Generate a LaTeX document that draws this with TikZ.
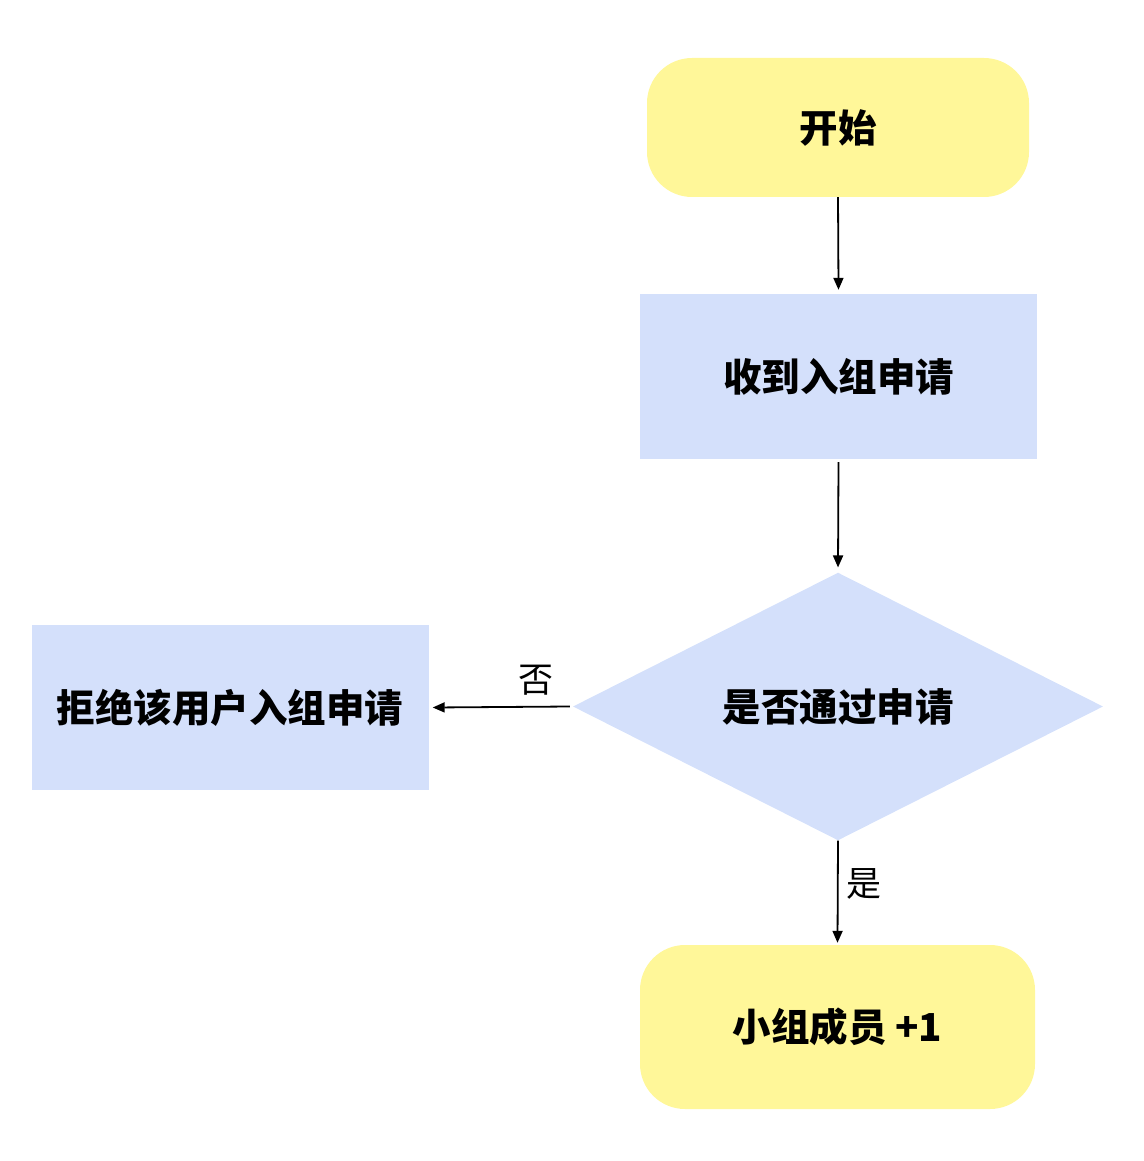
\documentclass[tikz,border=0pt]{standalone}
\usepackage{fontspec}
\newfontfamily\cjk{Noto Sans CJK SC}
\usetikzlibrary{shapes.geometric,arrows.meta}
\definecolor{ylw}{HTML}{FFF799}
\definecolor{blu}{HTML}{D4E0FB}
\tikzset{
  bigtxt/.style={font=\cjk\bfseries\fontsize{38.5}{42}\selectfont},
  term/.style={fill=ylw, rounded corners=45pt, minimum width=#1, inner sep=0pt, bigtxt},
  proc/.style={fill=blu, minimum width=397pt, minimum height=165pt, inner sep=0pt, bigtxt},
  dec/.style={fill=blu, diamond, minimum width=530pt, minimum height=263pt, inner sep=0pt, bigtxt},
  conn/.style={draw=black, line width=1.8pt, -{Triangle[length=12pt,width=10pt]}},
  lbl/.style={font=\cjk\fontsize{35}{38}\selectfont}
}
\begin{document}
\begin{tikzpicture}[x=1pt,y=-1pt]
\useasboundingbox (0,0) rectangle (1143,1161);
\node[term=382pt, minimum height=139pt] (start) at (838,127.5) {开始};
\node[proc] (recv) at (838.5,376.5) {收到入组申请};
\node[dec] (check) at (838,706.5) {是否通过申请};
\node[proc] (reject) at (230,707.5) {拒绝该用户入组申请};
\node[term=395pt, minimum height=164pt] (done) at (837.5,1027) {小组成员 +1};
\draw[conn] (start.south) -- ([yshift=4pt]recv.north);
\draw[conn] ([yshift=-3pt]recv.south) -- ([yshift=5pt]check.north);
\draw[conn] ([xshift=-3pt]check.west) -- node[lbl, above, pos=0.25, yshift=7pt] {否} ([xshift=4pt]reject.east);
\draw[conn] (check.south) -- node[lbl, right, pos=0.42, xshift=4pt] {是} ([yshift=2pt]done.north);
\end{tikzpicture}
\end{document}
